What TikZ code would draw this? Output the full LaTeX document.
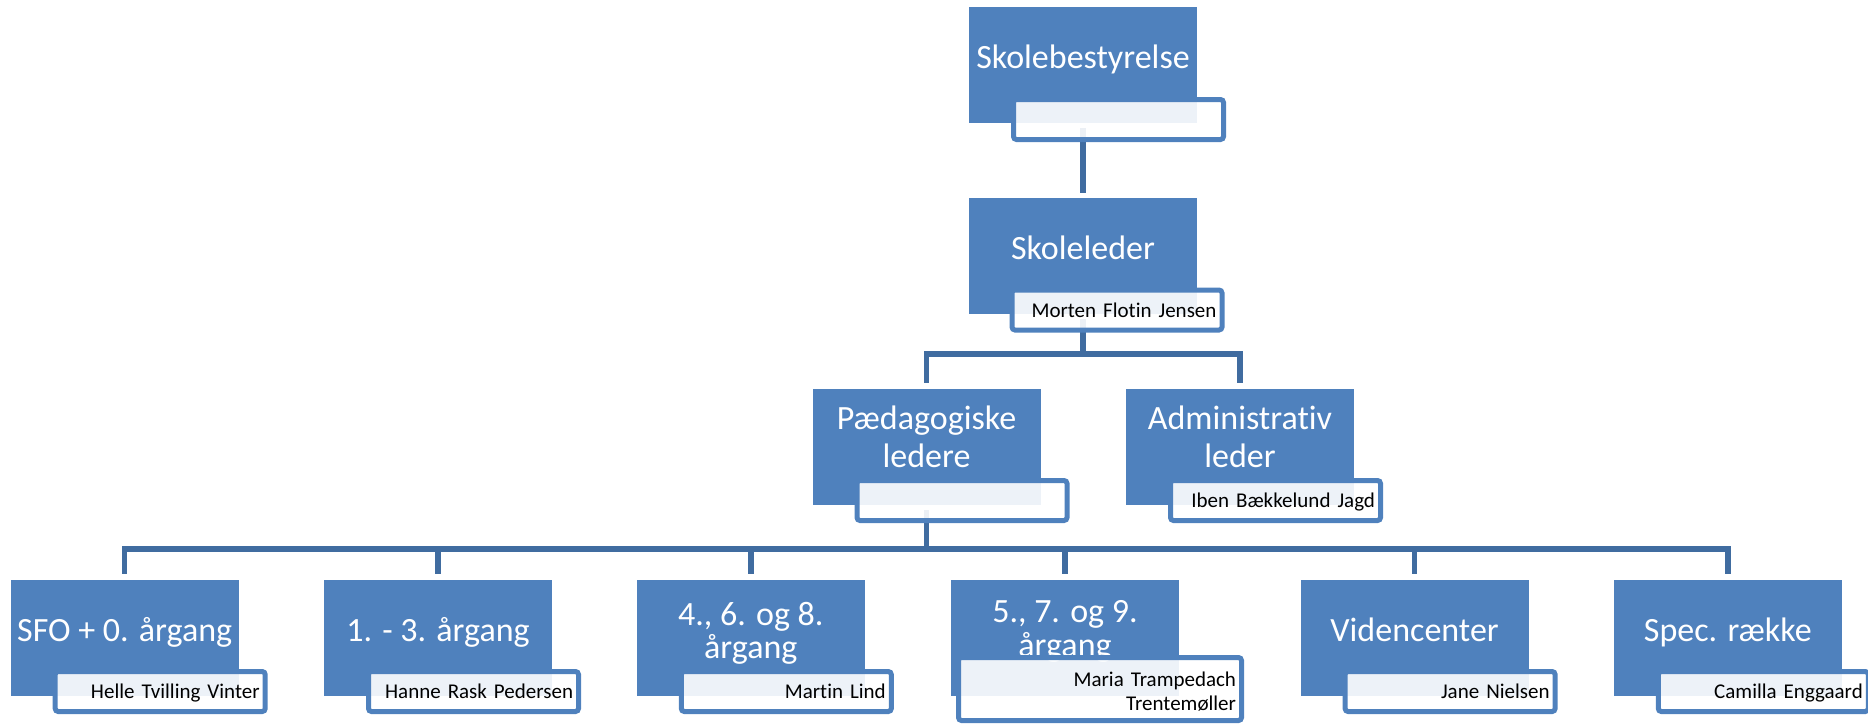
\documentclass[tikz,border=0pt]{standalone}
\usepackage{fontspec}
\setmainfont{Carlito}[Ligatures={NoCommon}]
\definecolor{boxblue}{HTML}{4F81BD}
\definecolor{linkblue}{RGB}{64,108,160}
\newcommand{\twolines}[3]{{\fontsize{34}{#3}\selectfont\begin{tabular}[t]{@{}c@{}}#1\\#2\end{tabular}}}
\tikzset{
  orgbox/.style={rectangle, fill=boxblue, minimum width=228pt, minimum height=116pt,
    inner sep=0pt, text=white, font=\fontsize{34}{38}\selectfont},
  oneline/.style={text height=6pt, text depth=0pt},
  lvltwo/.style={text height=0pt, text depth=36pt},
  lowtwo/.style={text height=0pt, text depth=#1},
  namebox/.style={rectangle, draw=boxblue, line width=5pt, fill=white, fill opacity=0.9,
    text opacity=1, text=black, rounded corners=3pt, minimum width=210pt, minimum height=40pt,
    inner xsep=5.5pt, inner ysep=0pt, text width=199pt, align=right,
    font=\fontsize{21}{23.3}\selectfont, text height=14pt, text depth=0pt},
  conn/.style={draw=linkblue, line width=5.5pt},
}
\begin{document}
\begin{tikzpicture}[x=1pt, y=-1pt]
\useasboundingbox (0,0) rectangle (1868,724);

% boxes
\node[orgbox, oneline] (L0) at (1083,65) {Skolebestyrelse};
\node[orgbox, oneline] (L1) at (1083,256) {Skoleleder};
\node[orgbox, lvltwo] (P) at (926.5,447) {\twolines{Pædagogiske}{ledere}{38}};
\node[orgbox, lvltwo] (A) at (1240,447) {\twolines{Administrativ}{leder}{38}};
\node[orgbox, oneline] (B1) at (124.7,638) {SFO + 0. årgang};
\node[orgbox, oneline] (B2) at (438,638) {1. - 3. årgang};
\node[orgbox, lowtwo=26pt] (B3) at (750.8,638) {\twolines{4., 6. og 8.}{årgang}{32}};
\node[orgbox, lowtwo=32pt] (B4) at (1065,638) {\twolines{5., 7. og 9.}{årgang}{33}};
\node[orgbox, oneline] (B5) at (1414.6,638) {Videncenter};
\node[orgbox, oneline] (B6) at (1727.8,638) {Spec. række};

% connectors (behind the name boxes)
\draw[conn, shorten <=5pt, shorten >=5pt] (L0.south) -- (L1.north);
\draw[conn, shorten <=5pt, shorten >=6pt] (L1.south) -- ++(0,40) -| (P.north);
\draw[conn, shorten <=5pt, shorten >=6pt] (L1.south) -- ++(0,40) -| (A.north);
\foreach \c in {B1,B2,B3,B4,B5,B6}{
  \draw[conn, shorten <=5pt, shorten >=6pt] (P.south) -- ++(0,44) -| (\c.north);
}

% name boxes
\node[namebox] (N0) at (1118.5,119.5) {};
\node[namebox] (N1) at (1117,310) {Morten Flotin Jensen};
\node[namebox] (NP) at (962,500.5) {};
\node[namebox] (NA) at (1275.5,500.5) {Iben Bækkelund Jagd};
\node[namebox] (NB1) at (160.2,691.5) {Helle Tvilling Vinter};
\node[namebox] (NB2) at (473.5,691.5) {Hanne Rask Pedersen};
\node[namebox] (NB3) at (786.3,691.5) {Martin Lind};
\node[namebox, minimum width=283pt, minimum height=63pt, text width=272pt, text height=0pt, text depth=4.6pt] (NB4) at (1100,689) {Maria Trampedach\\Trentemøller};
\node[namebox] (NB5) at (1450.1,691.5) {Jane Nielsen};
\node[namebox] (NB6) at (1763.3,691.5) {Camilla Enggaard};
\end{tikzpicture}
\end{document}
